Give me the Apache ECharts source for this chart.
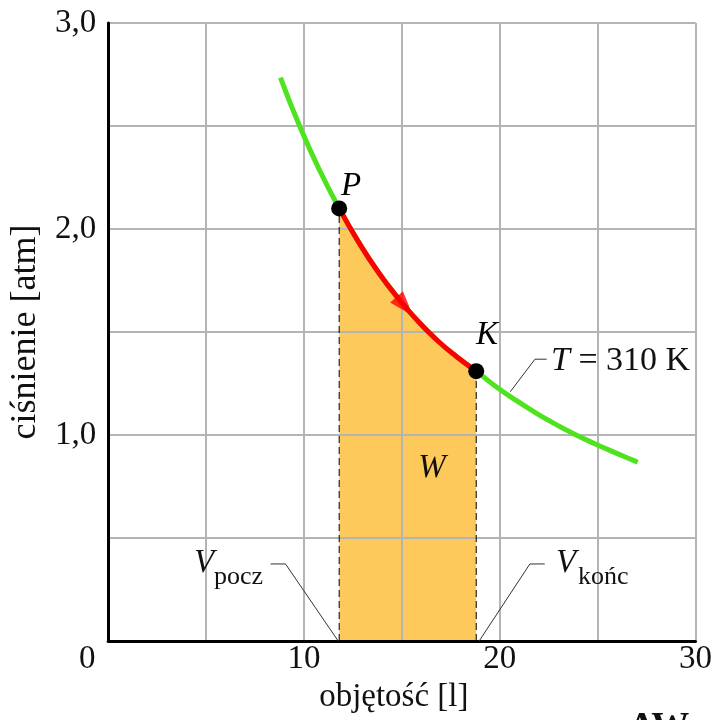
<!DOCTYPE html>
<html>
<head>
<meta charset="utf-8">
<script src="https://cdn.jsdelivr.net/npm/echarts@6/dist/echarts.min.js"></script>
<style>
    html, body { margin: 0; padding: 0; background: #fff; }
    #chart { width: 715px; height: 720px; }
</style>
</head>
<body>
<div id="chart"></div>
<script>
    // izoterma T = 310 K
    const isoV = [8.8, 9.8, 10.8, 11.8, 12.8, 13.8, 14.8, 15.8, 16.8, 17.8, 18.8, 19.8, 20.8, 21.8, 22.8, 23.8, 24.8, 25.8, 26.8, 27.05];
    const isoP = [2.735, 2.495, 2.285, 2.10, 1.935, 1.79, 1.665, 1.555, 1.46, 1.38, 1.31, 1.235, 1.17, 1.11, 1.055, 1.005, 0.96, 0.918, 0.878, 0.868];
    // punkty początkowy i końcowy
    const pointP = [11.8, 2.10];
    const pointK = [18.8, 1.31];
    const arrowAt = [15.15, 1.625];
    // linie odniesienia do opisów
    const leaderT = [[20.54, 1.21], [21.8, 1.368], [22.4, 1.368]];
    const leaderPocz = [[8.3, 0.374], [9.06, 0.374], [11.75, 0]];
    const leaderKonc = [[18.95, 0], [21.54, 0.374], [22.3, 0.374]];
    const yTicks = [1.0, 2.0, 3.0];
    const xTicks = [0, 10, 20, 30];

    const serif = '"Liberation Serif", "Times New Roman", serif';
    const curve = isoV.map((v, i) => [v, isoP[i]]);
    const work = curve.filter(d => d[0] >= pointP[0] && d[0] <= pointK[0]);

    const chart = echarts.init(document.getElementById('chart'));

    const leader = (data) => ({
        type: 'line', data: data, symbol: 'none', z: 4, silent: true,
        lineStyle: { color: '#333', width: 1 }
    });

    const option = {
        animation: false,
        grid: { left: 108, right: 15, top: 23, bottom: 79 },
        xAxis: {
            type: 'value', min: 0, max: 30, interval: 5, z: 2,
            name: 'objętość [l]', nameLocation: 'middle', nameGap: 34,
            nameTextStyle: { fontFamily: serif, fontSize: 33, color: '#111', padding: [0, 16, 0, 0] },
            axisLine: { lineStyle: { color: '#000', width: 3 } },
            axisTick: { show: false },
            axisLabel: {
                margin: 2, fontFamily: serif, fontSize: 33, color: '#111',
                formatter: v => {
                    if (!xTicks.includes(v)) return '';
                    return v === 0 ? '{z|0}' : String(v);
                },
                rich: { z: { fontFamily: serif, fontSize: 33, color: '#111', padding: [0, 42, 0, 0] } }
            },
            splitLine: { show: true, lineStyle: { color: '#b4b4b4', width: 2 } }
        },
        yAxis: {
            type: 'value', min: 0, max: 3, interval: 0.5, z: 2,
            name: 'ciśnienie [atm]', nameLocation: 'middle', nameGap: 60, nameRotate: 90,
            nameTextStyle: { fontFamily: serif, fontSize: 36, color: '#111' },
            axisLine: { lineStyle: { color: '#000', width: 3 } },
            axisTick: { show: false },
            axisLabel: {
                margin: 12, fontFamily: serif, fontSize: 33, color: '#111',
                formatter: v => yTicks.includes(v) ? v.toFixed(1).replace('.', ',') : ''
            },
            splitLine: { show: true, lineStyle: { color: '#b4b4b4', width: 2 } }
        },
        series: [
            // praca W - pole pod krzywą
            {
                type: 'line', data: work, symbol: 'none', smooth: 0.5, z: 1, silent: true,
                lineStyle: { width: 0 },
                areaStyle: { color: '#fdc95a', opacity: 1 }
            },
            {
                type: 'line', data: curve, symbol: 'none', smooth: 0.5, z: 3,
                lineStyle: { color: '#4fe21f', width: 5 }
            },
            {
                type: 'line', data: work, symbol: 'none', smooth: 0.5, z: 4,
                lineStyle: { color: '#ff0000', width: 5 }
            },
            {
                type: 'line', data: [[pointP[0], 0], pointP], symbol: 'none', z: 4,
                lineStyle: { color: '#000', width: 1, type: [7, 4] }
            },
            {
                type: 'line', data: [[pointK[0], 0], pointK], symbol: 'none', z: 4,
                lineStyle: { color: '#000', width: 1, type: [7, 4] }
            },
            leader(leaderT),
            leader(leaderPocz),
            leader(leaderKonc),
            {
                type: 'scatter', data: [arrowAt], z: 5, silent: true,
                symbol: 'triangle', symbolSize: [17, 25], symbolRotate: -139,
                itemStyle: { color: '#ff0000' }
            },
            {
                type: 'scatter', data: [pointP, pointK], z: 6, silent: true,
                symbolSize: 16, itemStyle: { color: '#000', opacity: 1 }
            }
        ],
        graphic: [
            { type: 'text', x: 351, y: 186, z: 10, style: { text: 'P', font: 'italic 33px ' + serif, fill: '#000', align: 'center', verticalAlign: 'middle' } },
            { type: 'text', x: 487, y: 335, z: 10, style: { text: 'K', font: 'italic 33px ' + serif, fill: '#000', align: 'center', verticalAlign: 'middle' } },
            { type: 'text', x: 432, y: 468, z: 10, style: { text: 'W', font: 'italic 33px ' + serif, fill: '#111', align: 'center', verticalAlign: 'middle' } },
            {
                type: 'text', x: 551, y: 361, z: 10,
                style: {
                    text: '{i|T} = 310 K', font: '34px ' + serif, fill: '#111', align: 'left', verticalAlign: 'middle',
                    rich: { i: { font: 'italic 34px ' + serif, fill: '#111' } }
                }
            },
            { type: 'text', x: 194, y: 563, z: 10, style: { text: 'V', font: 'italic 33px ' + serif, fill: '#111', align: 'left', verticalAlign: 'middle' } },
            { type: 'text', x: 214, y: 577, z: 10, style: { text: 'pocz', font: '26px ' + serif, fill: '#111', align: 'left', verticalAlign: 'middle' } },
            { type: 'text', x: 556, y: 563, z: 10, style: { text: 'V', font: 'italic 33px ' + serif, fill: '#111', align: 'left', verticalAlign: 'middle' } },
            { type: 'text', x: 578, y: 577, z: 10, style: { text: 'końc', font: '26px ' + serif, fill: '#111', align: 'left', verticalAlign: 'middle' } },
            { type: 'text', x: 628, y: 709, z: 10, style: { text: 'AW', font: 'bold 38px ' + serif, fill: '#111', align: 'left', verticalAlign: 'top' } }
        ]
    };

    chart.setOption(option);
</script>
</body>
</html>
